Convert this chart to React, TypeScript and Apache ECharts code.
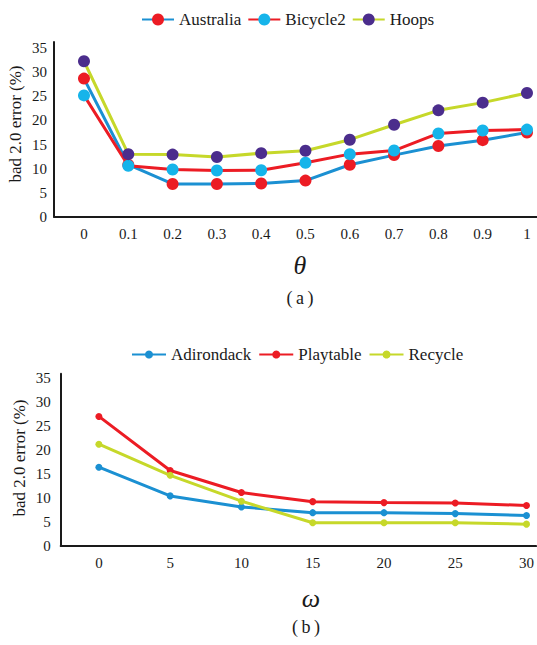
import React, { useEffect, useRef } from 'react';
import * as echarts from 'echarts';

// ---- panel (a) ----
const thetaTicks = [0, 0.1, 0.2, 0.3, 0.4, 0.5, 0.6, 0.7, 0.8, 0.9, 1];
const australia = [28.7, 10.8, 6.8, 6.8, 6.9, 7.5, 10.8, 12.8, 14.7, 15.9, 17.5];
const bicycle2 = [25.2, 10.6, 9.8, 9.6, 9.65, 11.2, 13.0, 13.75, 17.3, 17.9, 18.1];
const hoops = [32.3, 13.0, 12.9, 12.4, 13.2, 13.7, 16.0, 19.1, 22.1, 23.7, 25.7];

// ---- panel (b) ----
const omegaTicks = [0, 5, 10, 15, 20, 25, 30];
const adirondack = [16.4, 10.4, 8.1, 6.9, 6.9, 6.7, 6.3];
const playtable = [27.0, 15.7, 11.1, 9.2, 9.0, 8.9, 8.4];
const recycle = [21.2, 14.7, 9.3, 4.8, 4.8, 4.8, 4.5];

const yTicks = [0, 5, 10, 15, 20, 25, 30, 35];
const yName = 'bad 2.0 error (%)';

const FONT = 'Liberation Serif, Times New Roman, serif';
const INK = '#1a1a1a';
const RED = '#ec1c24';
const CYAN = '#16b4ea';
const BLUE = '#1b90d2';
const YEL = '#c6d82a';
const PURP = '#4b2d8c';

function pairs(xs: number[], ys: number[]) {
  return xs.map((x, i) => [x, ys[i]]);
}

function xAx(grid: number, min: number, max: number, ticks: number[]) {
  return {
    gridIndex: grid,
    type: 'value',
    min,
    max,
    axisLine: { show: true, onZero: false, lineStyle: { color: INK, width: 2 } },
    axisTick: { show: false },
    splitLine: { show: false },
    axisLabel: {
      customValues: ticks,
      margin: 10,
      fontSize: 15,
      color: INK,
      fontFamily: FONT,
      formatter: (v: number) => String(v),
    },
  };
}

function yAx(grid: number, max: number, margin: number) {
  return {
    gridIndex: grid,
    type: 'value',
    min: 0,
    max,
    axisLine: { show: true, onZero: false, lineStyle: { color: INK, width: 2 } },
    axisTick: { show: false },
    splitLine: { show: false },
    axisLabel: {
      customValues: yTicks,
      margin,
      fontSize: 15,
      color: INK,
      fontFamily: FONT,
      formatter: (v: number) => String(v),
    },
  };
}

function lineSeries(
  name: string,
  idx: number,
  xs: number[],
  ys: number[],
  lineColor: string,
  markColor: string,
  size: number
) {
  return {
    name,
    type: 'line',
    xAxisIndex: idx,
    yAxisIndex: idx,
    symbol: 'circle',
    symbolSize: size,
    showAllSymbol: true,
    lineStyle: { color: lineColor, width: 3 },
    itemStyle: { color: markColor },
    data: pairs(xs, ys),
  };
}

function txt(x: number, y: number, text: string, size: number, extra: any = {}) {
  return {
    type: 'text',
    x,
    y,
    rotation: extra.rotation || 0,
    style: {
      text,
      fontSize: size,
      fontFamily: FONT,
      fontStyle: extra.italic ? 'italic' : 'normal',
      fill: INK,
      align: 'center',
      verticalAlign: 'middle',
      textAlign: 'center',
      textVerticalAlign: 'middle',
    },
  };
}

export default function App() {
  const ref = useRef<HTMLDivElement>(null);
  useEffect(() => {
    if (!ref.current) return;
    const chart = echarts.init(ref.current, undefined, { renderer: 'svg' });
    chart.setOption({
      animation: false,
      backgroundColor: '#ffffff',
      textStyle: { fontFamily: FONT, color: INK },
      grid: [
        { left: 54, top: 42, width: 483, height: 174.7 },
        { left: 60.7, top: 373.8, width: 476.3, height: 171.9 },
      ],
      xAxis: [xAx(0, -0.0677, 1.0226, thetaTicks), xAx(1, -2.68, 30.67, omegaTicks)],
      yAxis: [yAx(0, 36.3, 7), yAx(1, 35.9, 10)],
      legend: [
        {
          left: 136,
          top: 6,
          itemWidth: 32,
          itemHeight: 15,
          itemGap: 6,
          textStyle: { fontSize: 17, fontFamily: FONT, color: INK },
          data: ['Australia', 'Bicycle2', 'Hoops'],
        },
        {
          left: 126,
          top: 341,
          itemWidth: 34,
          itemHeight: 10,
          itemGap: 7,
          textStyle: { fontSize: 17, fontFamily: FONT, color: INK },
          data: ['Adirondack', 'Playtable', 'Recycle'],
        },
      ],
      series: [
        lineSeries('Australia', 0, thetaTicks, australia, BLUE, RED, 12),
        lineSeries('Bicycle2', 0, thetaTicks, bicycle2, RED, CYAN, 12),
        lineSeries('Hoops', 0, thetaTicks, hoops, YEL, PURP, 12),
        lineSeries('Adirondack', 1, omegaTicks, adirondack, BLUE, BLUE, 7),
        lineSeries('Playtable', 1, omegaTicks, playtable, RED, RED, 7),
        lineSeries('Recycle', 1, omegaTicks, recycle, YEL, YEL, 7),
      ],
      graphic: [
        txt(15, 124, yName, 17, { rotation: Math.PI / 2 }),
        txt(19, 458, yName, 17, { rotation: Math.PI / 2 }),
        txt(300, 265, 'θ', 26, { italic: true }),
        txt(300, 298, '(\u2009a\u2009)', 18),
        txt(311, 598, 'ω', 26, { italic: true }),
        txt(306, 627, '(\u2009b\u2009)', 18),
      ],
    });
    return () => chart.dispose();
  }, []);
  return (
    <div
      ref={ref}
      style={{ position: 'absolute', left: 0, top: 0, width: 537, height: 645 }}
    />
  );
}
